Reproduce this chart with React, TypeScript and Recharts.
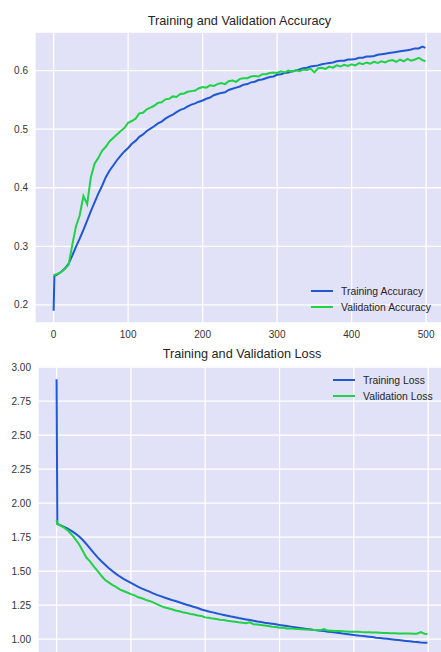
import React from 'react';
import { LineChart, Line, XAxis, YAxis, CartesianGrid } from 'recharts';

const epochs = [0, 1, 5, 10, 15, 20, 25, 30, 35, 40, 45, 50, 55, 60, 65, 70, 75, 80, 85, 90, 95, 100,
  105, 110, 115, 120, 125, 130, 135, 140, 145, 150, 155, 160, 165, 170, 175, 180, 185, 190, 195, 200,
  205, 210, 215, 220, 225, 230, 235, 240, 245, 250, 255, 260, 265, 270, 275, 280, 285, 290, 295, 300,
  305, 310, 315, 320, 325, 330, 335, 340, 345, 350, 355, 360, 365, 370, 375, 380, 385, 390, 395, 400,
  405, 410, 415, 420, 425, 430, 435, 440, 445, 450, 455, 460, 465, 470, 475, 480, 485, 490, 495, 499];

const trainAcc = [0.190, 0.249, 0.252, 0.256, 0.262, 0.270, 0.284, 0.299, 0.313, 0.328, 0.344, 0.360, 0.375, 0.390, 0.403, 0.418, 0.429, 0.438, 0.447, 0.455, 0.462, 0.468,
  0.475, 0.480, 0.487, 0.491, 0.497, 0.501, 0.505, 0.510, 0.513, 0.518, 0.522, 0.525, 0.529, 0.533, 0.535, 0.539, 0.542, 0.544, 0.547, 0.549,
  0.552, 0.554, 0.558, 0.560, 0.562, 0.563, 0.567, 0.569, 0.571, 0.573, 0.576, 0.577, 0.580, 0.581, 0.584, 0.585, 0.587, 0.589, 0.590, 0.593,
  0.594, 0.596, 0.597, 0.599, 0.600, 0.602, 0.604, 0.605, 0.607, 0.608, 0.609, 0.611, 0.612, 0.613, 0.614, 0.616, 0.617, 0.617, 0.619, 0.619,
  0.620, 0.622, 0.622, 0.624, 0.624, 0.625, 0.627, 0.628, 0.629, 0.630, 0.631, 0.632, 0.633, 0.634, 0.635, 0.636, 0.638, 0.638, 0.641, 0.639];

const valAcc = [0.250, 0.251, 0.253, 0.256, 0.261, 0.268, 0.302, 0.334, 0.353, 0.386, 0.372, 0.418, 0.441, 0.451, 0.463, 0.470, 0.479, 0.485, 0.491, 0.497, 0.502, 0.511,
  0.514, 0.518, 0.527, 0.528, 0.534, 0.537, 0.540, 0.545, 0.546, 0.551, 0.552, 0.556, 0.555, 0.560, 0.561, 0.564, 0.565, 0.566, 0.570, 0.572,
  0.571, 0.575, 0.574, 0.577, 0.579, 0.577, 0.582, 0.583, 0.581, 0.586, 0.587, 0.587, 0.590, 0.591, 0.590, 0.594, 0.594, 0.596, 0.597, 0.596,
  0.599, 0.597, 0.600, 0.598, 0.601, 0.599, 0.602, 0.601, 0.603, 0.597, 0.604, 0.605, 0.603, 0.607, 0.605, 0.609, 0.607, 0.610, 0.608, 0.611,
  0.609, 0.613, 0.611, 0.614, 0.612, 0.615, 0.613, 0.616, 0.614, 0.617, 0.618, 0.615, 0.619, 0.616, 0.620, 0.617, 0.619, 0.622, 0.618, 0.616];

const trainLoss = [2.912, 1.848, 1.838, 1.826, 1.812, 1.796, 1.778, 1.757, 1.731, 1.700, 1.667, 1.634, 1.603, 1.575, 1.549, 1.524, 1.501, 1.480, 1.461, 1.444, 1.428, 1.413,
  1.399, 1.385, 1.372, 1.360, 1.349, 1.337, 1.326, 1.316, 1.306, 1.297, 1.288, 1.280, 1.271, 1.262, 1.253, 1.245, 1.237, 1.229, 1.218, 1.211,
  1.203, 1.197, 1.190, 1.184, 1.178, 1.172, 1.166, 1.161, 1.155, 1.150, 1.145, 1.140, 1.135, 1.130, 1.126, 1.121, 1.117, 1.113, 1.109, 1.104,
  1.100, 1.096, 1.092, 1.088, 1.084, 1.080, 1.076, 1.073, 1.069, 1.066, 1.062, 1.059, 1.055, 1.052, 1.048, 1.045, 1.041, 1.038, 1.034, 1.030,
  1.027, 1.024, 1.021, 1.018, 1.015, 1.011, 1.008, 1.005, 1.002, 0.999, 0.996, 0.993, 0.990, 0.987, 0.984, 0.981, 0.979, 0.976, 0.974, 0.973];

const valLoss = [1.875, 1.846, 1.836, 1.820, 1.800, 1.772, 1.738, 1.700, 1.652, 1.600, 1.572, 1.536, 1.503, 1.468, 1.437, 1.418, 1.399, 1.384, 1.366, 1.354, 1.343, 1.331,
  1.322, 1.308, 1.301, 1.289, 1.281, 1.270, 1.258, 1.245, 1.234, 1.227, 1.220, 1.211, 1.205, 1.198, 1.193, 1.185, 1.181, 1.174, 1.170, 1.160,
  1.157, 1.151, 1.148, 1.142, 1.140, 1.135, 1.131, 1.128, 1.124, 1.121, 1.117, 1.124, 1.110, 1.107, 1.104, 1.100, 1.096, 1.091, 1.089, 1.084,
  1.083, 1.079, 1.078, 1.076, 1.075, 1.073, 1.071, 1.070, 1.068, 1.067, 1.065, 1.074, 1.063, 1.062, 1.060, 1.059, 1.058, 1.057, 1.055, 1.054,
  1.054, 1.052, 1.051, 1.050, 1.049, 1.048, 1.047, 1.046, 1.046, 1.044, 1.044, 1.042, 1.042, 1.041, 1.041, 1.040, 1.040, 1.052, 1.040, 1.038];

const xTicks = [0, 100, 200, 300, 400, 500];
const accTicks = [0.2, 0.3, 0.4, 0.5, 0.6];
const lossTicks = [1.0, 1.25, 1.5, 1.75, 2.0, 2.25, 2.5, 2.75, 3.0];

const accData = epochs.map((e, i) => ({ epoch: e, train: trainAcc[i], val: valAcc[i] }));
const lossData = epochs.map((e, i) => ({ epoch: e, train: trainLoss[i], val: valLoss[i] }));

const BLUE = '#1f58d2';
const GREEN = '#1fd146';
const BG = '#e1e1f7';
const FONT = '"Liberation Sans", Arial, sans-serif';
const TEXT = '#262626';

const tickStyle = { fontSize: 10, fill: '#333', fontFamily: FONT };

function LegendBox({ left, top, items }: { left: number; top: number; items: { label: string; color: string }[] }) {
  return (
    <div style={{ position: 'absolute', left, top, fontFamily: FONT, fontSize: 10.4, color: TEXT }}>
      {items.map((it) => (
        <div key={it.label} style={{ display: 'flex', alignItems: 'center', height: 16 }}>
          <div style={{ width: 22, height: 2, background: it.color, marginRight: 8 }} />
          <span style={{ whiteSpace: 'nowrap' }}>{it.label}</span>
        </div>
      ))}
    </div>
  );
}

const NoTick = () => <g />;

export default function App() {
  return (
    <div style={{ position: 'absolute', left: 0, top: 0, width: 441, height: 652, overflow: 'hidden', background: '#fff', fontFamily: FONT }}>
      <div style={{ position: 'absolute', left: 0, top: 0 }}>
        <LineChart width={450} height={343} data={accData} margin={{ top: 32, right: 6, bottom: 0, left: 0 }}>
          <CartesianGrid fill={BG} stroke="#ffffff" strokeWidth={1.3} />
          <XAxis dataKey="epoch" type="number" domain={[-25, 524]} ticks={xTicks} allowDataOverflow
            axisLine={false} tickLine={false} tickSize={0} tickMargin={8} height={20} tick={tickStyle} interval={0} />
          <YAxis type="number" domain={[0.169, 0.666]} ticks={accTicks} allowDataOverflow width={35}
            axisLine={false} tickLine={false} tickSize={0} tickMargin={7} tick={tickStyle}
            tickFormatter={(v: number) => v.toFixed(1)} interval={0} />
          <Line dataKey="train" stroke={BLUE} strokeWidth={2} dot={false} isAnimationActive={false} type="linear" />
          <Line dataKey="val" stroke={GREEN} strokeWidth={2} dot={false} isAnimationActive={false} type="linear" />
        </LineChart>
      </div>
      <div style={{ position: 'absolute', left: 35, width: 409, top: 14, textAlign: 'center', fontSize: 12.7, color: TEXT, whiteSpace: 'nowrap' }}>
        Training and Validation Accuracy
      </div>
      <LegendBox left={311} top={283} items={[{ label: 'Training Accuracy', color: BLUE }, { label: 'Validation Accuracy', color: GREEN }]} />

      <div style={{ position: 'absolute', left: 0, top: 340 }}>
        <LineChart width={452} height={336} data={lossData} margin={{ top: 26, right: 6, bottom: 0, left: 0 }}>
          <CartesianGrid fill={BG} stroke="#ffffff" strokeWidth={1.3} />
          <XAxis dataKey="epoch" type="number" domain={[-25, 524]} ticks={xTicks} allowDataOverflow
            axisLine={false} tickLine={false} tickSize={0} height={20} tick={NoTick} interval={0} />
          <YAxis type="number" domain={[0.876, 3.009]} ticks={lossTicks} allowDataOverflow width={38}
            axisLine={false} tickLine={false} tickSize={0} tickMargin={7} tick={tickStyle}
            tickFormatter={(v: number) => v.toFixed(2)} interval={0} />
          <Line dataKey="train" stroke={BLUE} strokeWidth={2} dot={false} isAnimationActive={false} type="linear" />
          <Line dataKey="val" stroke={GREEN} strokeWidth={2} dot={false} isAnimationActive={false} type="linear" />
        </LineChart>
      </div>
      <div style={{ position: 'absolute', left: 38, width: 408, top: 347, textAlign: 'center', fontSize: 12.7, color: TEXT, whiteSpace: 'nowrap' }}>
        Training and Validation Loss
      </div>
      <LegendBox left={333} top={372} items={[{ label: 'Training Loss', color: BLUE }, { label: 'Validation Loss', color: GREEN }]} />
    </div>
  );
}
